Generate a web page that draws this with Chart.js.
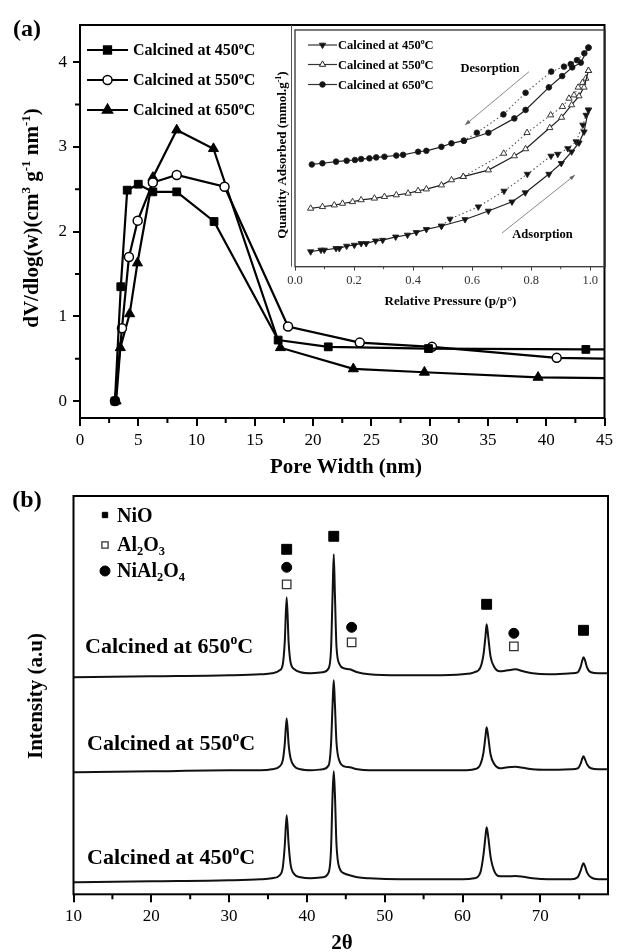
<!DOCTYPE html>
<html>
<head>
<meta charset="utf-8">
<script src="https://cdn.jsdelivr.net/npm/chart.js@4.4.0/dist/chart.umd.min.js"></script>
<style>
  body { margin: 0; background: #fff; }
  #wrap { position: relative; width: 617px; height: 952px; }
  canvas { position: absolute; }
</style>
</head>
<body>
<div id="wrap">
  <canvas id="poreChart" width="617" height="482" style="left:0;top:0;width:617px;height:482px"></canvas>
  <canvas id="isoChart" width="362" height="300" style="left:255px;top:20px;width:362px;height:300px"></canvas>
  <canvas id="xrdChart" width="617" height="470" style="left:0;top:482px;width:617px;height:470px"></canvas>
</div>
<script>
// ---- (a) pore size distribution ----
var pore450 = [3.0, 3.5, 4.05, 5.0, 6.25, 8.3, 11.5, 17.0, 21.3, 29.9, 43.4, 45];
var dv450   = [0, 1.35, 2.49, 2.56, 2.47, 2.47, 2.12, 0.72, 0.64, 0.62, 0.61, 0.61];
var pore550 = [3.0, 3.6, 4.2, 4.95, 6.25, 8.3, 12.4, 17.85, 24.0, 30.2, 40.9, 45];
var dv550   = [0, 0.86, 1.70, 2.13, 2.58, 2.67, 2.53, 0.88, 0.69, 0.64, 0.51, 0.50];
var pore650 = [3.1, 3.46, 4.26, 4.93, 6.25, 8.3, 11.45, 17.2, 23.45, 29.55, 39.3, 45];
var dv650   = [0, 0.63, 1.03, 1.63, 2.64, 3.20, 2.98, 0.63, 0.38, 0.34, 0.28, 0.27];
var xTicksA = [0, 5, 10, 15, 20, 25, 30, 35, 40, 45];
var xMinorA = [2.5, 7.5, 12.5, 17.5, 22.5, 27.5, 32.5, 37.5, 42.5];
var yTicksA = [0, 1, 2, 3, 4];
var yMinorA = [0.5, 1.5, 2.5, 3.5];

// ---- inset: isotherms (relative pressure, quantity adsorbed a.u.) ----
var p450ads = [0.053, 0.088, 0.099, 0.139, 0.150, 0.175, 0.201, 0.224, 0.241, 0.273, 0.297, 0.341, 0.381, 0.411, 0.445, 0.496, 0.576, 0.655, 0.735, 0.780, 0.860, 0.902, 0.937, 0.962, 0.979, 0.994];
var q450ads = [0.57, 0.64, 0.64, 0.71, 0.71, 0.81, 0.85, 0.92, 0.92, 1.03, 1.06, 1.20, 1.28, 1.39, 1.52, 1.66, 1.94, 2.30, 2.69, 3.08, 3.87, 4.33, 4.82, 5.20, 5.67, 6.60];
var p450des = [0.994, 0.986, 0.975, 0.952, 0.924, 0.890, 0.867, 0.787, 0.708, 0.621, 0.525, 0.496];
var q450des = [6.60, 6.38, 5.96, 5.25, 4.96, 4.72, 4.64, 3.87, 3.15, 2.48, 1.96, 1.66];
var p550ads = [0.053, 0.093, 0.133, 0.161, 0.195, 0.224, 0.269, 0.303, 0.343, 0.383, 0.417, 0.445, 0.496, 0.530, 0.570, 0.655, 0.743, 0.781, 0.863, 0.903, 0.937, 0.962, 0.979, 0.994];
var q550ads = [2.41, 2.48, 2.55, 2.62, 2.69, 2.77, 2.84, 2.91, 2.98, 3.05, 3.16, 3.23, 3.40, 3.62, 3.76, 4.04, 4.64, 4.94, 5.84, 6.28, 6.81, 7.19, 7.56, 8.27];
var p550des = [0.994, 0.985, 0.974, 0.959, 0.945, 0.928, 0.906, 0.866, 0.786, 0.707, 0.570];
var q550des = [8.27, 7.94, 7.76, 7.56, 7.23, 7.09, 6.74, 6.38, 5.63, 4.75, 3.76];
var p650ads = [0.057, 0.093, 0.139, 0.175, 0.203, 0.224, 0.252, 0.275, 0.303, 0.343, 0.366, 0.417, 0.445, 0.496, 0.530, 0.572, 0.655, 0.743, 0.781, 0.860, 0.905, 0.939, 0.968, 0.994];
var q650ads = [4.28, 4.33, 4.40, 4.44, 4.47, 4.51, 4.54, 4.58, 4.61, 4.66, 4.69, 4.82, 4.86, 5.03, 5.18, 5.29, 5.63, 6.24, 6.60, 7.56, 8.04, 8.41, 8.61, 9.25];
var p650des = [0.994, 0.980, 0.955, 0.934, 0.911, 0.868, 0.781, 0.706, 0.616, 0.572];
var q650des = [9.25, 9.01, 8.72, 8.55, 8.44, 8.23, 7.33, 6.41, 5.63, 5.29];
var xTicksIn = [0, 0.2, 0.4, 0.6, 0.8, 1.0];
var xMinorIn = [0.1, 0.3, 0.5, 0.7, 0.9];

// ---- (b) XRD patterns (intensity in a.u., stacked) ----
var twoTheta = [10, 20, 30, 34, 35.5, 36.5, 36.9, 37.15, 37.4, 37.65, 37.9, 38.4, 39.2, 40.5, 42.0, 42.8, 43.1, 43.3, 43.45, 43.6, 43.8, 44.2, 44.8, 45.5, 46.5, 48, 52, 56, 60, 61.5, 62.3, 62.7, 62.95, 63.1, 63.3, 63.6, 64.1, 64.8, 65.8, 66.8, 67.8, 69, 71, 74, 74.8, 75.2, 75.4, 75.55, 75.75, 76.0, 76.5, 77.5, 78.7];
var int650 = [217, 218, 219, 220, 221, 224, 230, 252, 297, 252, 232, 225, 222, 221, 222, 226, 245, 300, 340, 300, 248, 230, 226, 225, 222, 220, 219, 219, 220, 222, 227, 240, 258, 270, 258, 238, 227, 223, 224, 225, 223, 221, 220, 221, 222, 228, 234, 237, 234, 227, 222, 221, 221];
var int550 = [122, 123, 124, 124, 125, 128, 134, 150, 176, 150, 136, 128, 125, 124, 125, 129, 150, 190, 214, 190, 152, 133, 128, 127, 125, 124, 124, 124, 124, 125, 130, 142, 158, 167, 158, 140, 130, 126, 127, 127.5, 126.5, 125, 124.5, 125, 126, 131, 136, 138, 135, 130, 126, 125, 125];
var int450 = [12, 13, 14, 15, 16, 19, 27, 48, 79, 50, 30, 20, 17, 16, 17, 22, 45, 100, 123, 100, 50, 26, 21, 19, 17, 16, 15, 15, 15, 16, 22, 40, 58, 67, 58, 38, 23, 18, 18, 18.3, 17.5, 16, 15, 15, 17, 24, 29, 31, 28, 22, 17, 15, 15];
var nioPos = [37.4, 43.45, 63.1, 75.55];
var nioY   = [345, 358, 290, 264];
var aloPos = [37.4, 45.75, 66.6];
var aloY   = [310, 252, 248];
var nialPos = [37.4, 45.75, 66.6];
var nialY   = [327, 267, 261];
var xTicksB = [10, 20, 30, 40, 50, 60, 70];
var xMinorB = [15, 25, 35, 45, 55, 65, 75];

var SERIF = '"Liberation Serif", "Times New Roman", serif';

function pts(xs, ys) {
  return xs.map(function (x, i) { return { x: x, y: ys[i] }; });
}

// draws text made of normal / superscript / subscript parts
function richText(ctx, parts, x, y, size, align, rot, weight) {
  ctx.save();
  ctx.translate(x, y);
  if (rot) ctx.rotate(rot);
  ctx.textBaseline = 'alphabetic';
  ctx.textAlign = 'left';
  ctx.fillStyle = '#000';
  var w = weight || 'bold';
  function setFont(p) {
    var s = p[1] ? size * 0.62 : size;
    ctx.font = w + ' ' + s + 'px ' + SERIF;
  }
  var total = 0;
  parts.forEach(function (p) { setFont(p); total += ctx.measureText(p[0]).width; });
  var cx = align === 'center' ? -total / 2 : 0;
  parts.forEach(function (p) {
    setFont(p);
    var dy = p[1] === 'sup' ? -size * 0.4 : p[1] === 'sub' ? size * 0.24 : 0;
    ctx.fillText(p[0], cx, size * 0.33 + dy);
    cx += ctx.measureText(p[0]).width;
  });
  ctx.restore();
}

function marker(ctx, style, x, y, r, fill, stroke, lw, rotDeg) {
  ctx.save();
  ctx.beginPath();
  if (style === 'rect') {
    var s = r * Math.SQRT1_2;
    ctx.rect(x - s, y - s, 2 * s, 2 * s);
  } else if (style === 'circle') {
    ctx.arc(x, y, r, 0, Math.PI * 2);
  } else {
    var a = (rotDeg || 0) * Math.PI / 180;
    for (var k = 0; k < 3; k++) {
      var px = x + Math.sin(a) * r, py = y - Math.cos(a) * r;
      if (k === 0) ctx.moveTo(px, py); else ctx.lineTo(px, py);
      a += Math.PI * 2 / 3;
    }
    ctx.closePath();
  }
  ctx.fillStyle = fill;
  ctx.fill();
  ctx.lineWidth = lw;
  ctx.strokeStyle = stroke;
  ctx.stroke();
  ctx.restore();
}

function minorTicks(ctx, scale, values, len, horizontal, width, color) {
  ctx.save();
  ctx.strokeStyle = color;
  ctx.lineWidth = width;
  ctx.beginPath();
  values.forEach(function (v) {
    var p = scale.getPixelForValue(v);
    if (horizontal) { ctx.moveTo(p, scale.top); ctx.lineTo(p, scale.top + len); }
    else { ctx.moveTo(scale.right, p); ctx.lineTo(scale.right - len, p); }
  });
  ctx.stroke();
  ctx.restore();
}

function arrow(ctx, x1, y1, x2, y2) {
  var ang = Math.atan2(y2 - y1, x2 - x1);
  ctx.save();
  ctx.strokeStyle = '#888';
  ctx.fillStyle = '#666';
  ctx.lineWidth = 1;
  ctx.beginPath(); ctx.moveTo(x1, y1); ctx.lineTo(x2, y2); ctx.stroke();
  ctx.beginPath();
  ctx.moveTo(x2, y2);
  ctx.lineTo(x2 - 6 * Math.cos(ang - 0.35), y2 - 6 * Math.sin(ang - 0.35));
  ctx.lineTo(x2 - 6 * Math.cos(ang + 0.35), y2 - 6 * Math.sin(ang + 0.35));
  ctx.closePath(); ctx.fill();
  ctx.restore();
}

function tickGrid(len, width, color) {
  return { display: true, drawOnChartArea: false, drawTicks: true, tickLength: len,
           color: color, lineWidth: width };
}

function setTicks(list) {
  return function (s) { s.ticks = list.map(function (v) { return { value: v }; }); };
}

function endPoint(r) {
  return function (c) { return c.dataIndex === c.dataset.data.length - 1 ? 0 : r; };
}

var deg = [['o', 'sup']];

// ---------------- panel (a) ----------------
var panelA = {
  id: 'panelA',
  afterDraw: function (chart) {
    var ctx = chart.ctx, a = chart.chartArea;
    ctx.save();
    ctx.strokeStyle = '#000';
    ctx.lineWidth = 2;
    ctx.strokeRect(a.left, a.top, a.right - a.left, a.bottom - a.top);
    ctx.restore();
    minorTicks(ctx, chart.scales.x, xMinorA, 5, true, 2, '#000');
    minorTicks(ctx, chart.scales.y, yMinorA, 5, false, 2, '#000');

    var rows = [
      { y: 50, t: '450', style: 'rect', r: 5.5, fill: '#000' },
      { y: 80, t: '550', style: 'circle', r: 4.5, fill: '#fff' },
      { y: 110, t: '650', style: 'triangle', r: 5.8, fill: '#000' }
    ];
    rows.forEach(function (row) {
      ctx.save();
      ctx.strokeStyle = '#000'; ctx.lineWidth = 2.2;
      ctx.beginPath(); ctx.moveTo(87, row.y); ctx.lineTo(128, row.y); ctx.stroke();
      ctx.restore();
      marker(ctx, row.style, 107.5, row.y, row.r, row.fill, '#000', 1.5);
      richText(ctx, [['Calcined at ' + row.t, '']].concat(deg).concat([['C', '']]), 133, row.y, 16, 'left');
    });

    richText(ctx, [['(a)', '']], 27, 28, 24, 'center');
    richText(ctx, [['Pore Width (nm)', '']], 346, 466, 21, 'center');
    richText(ctx, [['dV/dlog(w)(cm', ''], ['3', 'sup'], [' g', ''], ['-1', 'sup'], [' nm', ''], ['-1', 'sup'], [')', '']],
      31, 218, 21, 'center', -Math.PI / 2);
  }
};

new Chart(document.getElementById('poreChart'), {
  type: 'line',
  data: {
    datasets: [
      { data: pts(pore450, dv450), borderColor: '#000', borderWidth: 2.2, pointStyle: 'rect',
        pointRadius: endPoint(5.5), pointBackgroundColor: '#000', pointBorderColor: '#000', pointBorderWidth: 1 },
      { data: pts(pore550, dv550), borderColor: '#000', borderWidth: 2.2, pointStyle: 'circle',
        pointRadius: endPoint(4.5), pointBackgroundColor: '#fff', pointBorderColor: '#000', pointBorderWidth: 1.5 },
      { data: pts(pore650, dv650), borderColor: '#000', borderWidth: 2.2, pointStyle: 'triangle',
        pointRadius: endPoint(5.8), pointBackgroundColor: '#000', pointBorderColor: '#000', pointBorderWidth: 1 }
    ]
  },
  options: {
    responsive: false,
    animation: false,
    layout: { padding: { top: 25, right: 7.5, left: 0, bottom: 0 } },
    elements: { line: { tension: 0 } },
    plugins: { legend: { display: false }, tooltip: { enabled: false } },
    scales: {
      x: {
        type: 'linear', min: 0, max: 45,
        afterBuildTicks: setTicks(xTicksA),
        afterFit: function (s) { s.height = 64; },
        grid: tickGrid(8, 2, '#000'),
        border: { display: false },
        ticks: { color: '#000', padding: 4, maxRotation: 0, autoSkip: false,
                 font: { family: SERIF, size: 17 } }
      },
      y: {
        type: 'linear', min: -0.2, max: 4.44,
        afterBuildTicks: setTicks(yTicksA),
        afterFit: function (s) { s.width = 80; },
        grid: tickGrid(7, 2, '#000'),
        border: { display: false },
        ticks: { color: '#000', padding: 6, font: { family: SERIF, size: 17 } }
      }
    }
  },
  plugins: [panelA]
});

// ---------------- inset isotherms ----------------
var insetDeco = {
  id: 'insetDeco',
  afterDraw: function (chart) {
    var ctx = chart.ctx, a = chart.chartArea;
    ctx.save();
    ctx.strokeStyle = '#333';
    ctx.lineWidth = 1.3;
    ctx.strokeRect(a.left, a.top, a.right - a.left, a.bottom - a.top);
    ctx.strokeStyle = '#555';
    ctx.lineWidth = 1;
    ctx.beginPath(); ctx.moveTo(a.left - 3.5, 5); ctx.lineTo(a.left - 3.5, a.bottom); ctx.stroke();
    ctx.restore();
    minorTicks(ctx, chart.scales.x, xMinorIn, 2.5, true, 1, '#444');

    var rows = [
      { y: 25, style: 'triangle', rot: 180, fill: '#111', r: 3.6, t: '450' },
      { y: 44.5, style: 'triangle', rot: 0, fill: '#fff', r: 3.6, t: '550' },
      { y: 64.5, style: 'circle', rot: 0, fill: '#111', r: 2.8, t: '650' }
    ];
    rows.forEach(function (row) {
      ctx.save();
      ctx.strokeStyle = '#333'; ctx.lineWidth = 1.2;
      ctx.beginPath(); ctx.moveTo(53, row.y); ctx.lineTo(82, row.y); ctx.stroke();
      ctx.restore();
      marker(ctx, row.style, 67.5, row.y, row.r, row.fill, '#222', 1, row.rot);
      richText(ctx, [['Calcined at ' + row.t, ''], ['o', 'sup'], ['C', '']], 83, row.y, 12.5, 'left');
    });

    richText(ctx, [['Desorption', '']], 235, 47.5, 12.5, 'center');
    arrow(ctx, 274, 51.7, 210, 105);
    richText(ctx, [['Adsorption', '']], 287.5, 214, 12.5, 'center');
    arrow(ctx, 247, 213, 320, 155);

    richText(ctx, [['Relative Pressure (p/p°)', '']], 195.5, 281, 13, 'center');
    richText(ctx, [['Quantity Adsorbed (mmol.g', ''], ['-1', 'sup'], [')', '']], 27, 135, 13, 'center', -Math.PI / 2);
  }
};

function isoSet(xs, ys, style, rot, fill, r, dashed) {
  return {
    data: pts(xs, ys), borderColor: dashed ? '#555' : '#222', borderWidth: dashed ? 1.1 : 1.2,
    borderDash: dashed ? [1.5, 2.5] : [], pointStyle: style, pointRotation: rot, pointRadius: r,
    pointBackgroundColor: fill, pointBorderColor: '#222', pointBorderWidth: 0.9
  };
}

new Chart(document.getElementById('isoChart'), {
  type: 'line',
  data: {
    datasets: [
      isoSet(p450ads, q450ads, 'triangle', 180, '#111', 3.6, false),
      isoSet(p450des, q450des, 'triangle', 180, '#111', 3.6, true),
      isoSet(p550ads, q550ads, 'triangle', 0, '#fff', 3.6, false),
      isoSet(p550des, q550des, 'triangle', 0, '#fff', 3.6, true),
      isoSet(p650ads, q650ads, 'circle', 0, '#111', 2.8, false),
      isoSet(p650des, q650des, 'circle', 0, '#111', 2.8, true)
    ]
  },
  options: {
    responsive: false,
    animation: false,
    layout: { padding: { top: 10, right: 12, left: 40, bottom: 0 } },
    elements: { line: { tension: 0 } },
    plugins: { legend: { display: false }, tooltip: { enabled: false } },
    scales: {
      x: {
        type: 'linear', min: 0, max: 1.05,
        afterBuildTicks: setTicks(xTicksIn),
        afterFit: function (s) { s.height = 53.3; },
        grid: tickGrid(4, 1, '#444'),
        border: { display: false },
        ticks: { color: '#333', padding: 3, maxRotation: 0, autoSkip: false,
                 font: { family: SERIF, size: 12.5 },
                 callback: function (v) { return Number(v).toFixed(1); } }
      },
      y: { type: 'linear', display: false, min: -0.07, max: 10 }
    }
  },
  plugins: [insetDeco]
});

// ---------------- panel (b) ----------------
var panelB = {
  id: 'panelB',
  afterDraw: function (chart) {
    var ctx = chart.ctx, a = chart.chartArea;
    ctx.save();
    ctx.strokeStyle = '#000';
    ctx.lineWidth = 2;
    ctx.strokeRect(a.left, a.top, a.right - a.left, a.bottom - a.top);
    ctx.restore();
    minorTicks(ctx, chart.scales.x, xMinorB, 5, true, 2, '#000');

    marker(ctx, 'rect', 105, 33, 3.8, '#000', '#000', 1);
    richText(ctx, [['NiO', '']], 117, 33, 20, 'left');
    marker(ctx, 'rect', 105, 63, 4.4, '#fff', '#333', 1.3);
    richText(ctx, [['Al', ''], ['2', 'sub'], ['O', ''], ['3', 'sub']], 117, 62, 20, 'left');
    marker(ctx, 'circle', 105, 89, 5, '#000', '#000', 1);
    richText(ctx, [['NiAl', ''], ['2', 'sub'], ['O', ''], ['4', 'sub']], 117, 88, 20, 'left');

    richText(ctx, [['Calcined at 650', '']].concat(deg).concat([['C', '']]), 85, 164, 22, 'left');
    richText(ctx, [['Calcined at 550', '']].concat(deg).concat([['C', '']]), 87, 261, 22, 'left');
    richText(ctx, [['Calcined at 450', '']].concat(deg).concat([['C', '']]), 87, 374.5, 22, 'left');

    richText(ctx, [['(b)', '']], 27, 17, 24, 'center');
    richText(ctx, [['2θ', '']], 342, 460, 21, 'center');
    richText(ctx, [['Intensity (a.u)', '']], 35, 214, 21, 'center', -Math.PI / 2);
  }
};

function xrdSet(ys) {
  return { data: pts(twoTheta, ys), borderColor: '#111', borderWidth: 2, pointRadius: 0,
           cubicInterpolationMode: 'monotone' };
}

new Chart(document.getElementById('xrdChart'), {
  type: 'line',
  data: {
    datasets: [
      xrdSet(int650),
      xrdSet(int550),
      xrdSet(int450),
      { data: pts(nioPos, nioY), showLine: false, pointStyle: 'rect', pointRadius: 7,
        pointBackgroundColor: '#000', pointBorderColor: '#000', pointBorderWidth: 1 },
      { data: pts(aloPos, aloY), showLine: false, pointStyle: 'rect', pointRadius: 6,
        pointBackgroundColor: '#fff', pointBorderColor: '#333', pointBorderWidth: 1.3 },
      { data: pts(nialPos, nialY), showLine: false, pointStyle: 'circle', pointRadius: 5,
        pointBackgroundColor: '#000', pointBorderColor: '#000', pointBorderWidth: 1 }
    ]
  },
  options: {
    responsive: false,
    animation: false,
    layout: { padding: { top: 14, right: 9, left: 73.5, bottom: 0 } },
    plugins: { legend: { display: false }, tooltip: { enabled: false } },
    scales: {
      x: {
        type: 'linear', min: 10, max: 78.7,
        afterBuildTicks: setTicks(xTicksB),
        afterFit: function (s) { s.height = 57.7; },
        grid: tickGrid(8, 2, '#000'),
        border: { display: false },
        ticks: { color: '#000', padding: 4.5, maxRotation: 0, autoSkip: false,
                 font: { family: SERIF, size: 17 } }
      },
      y: { type: 'linear', display: false, min: 0, max: 398.3 }
    }
  },
  plugins: [panelB]
});
</script>
</body>
</html>
